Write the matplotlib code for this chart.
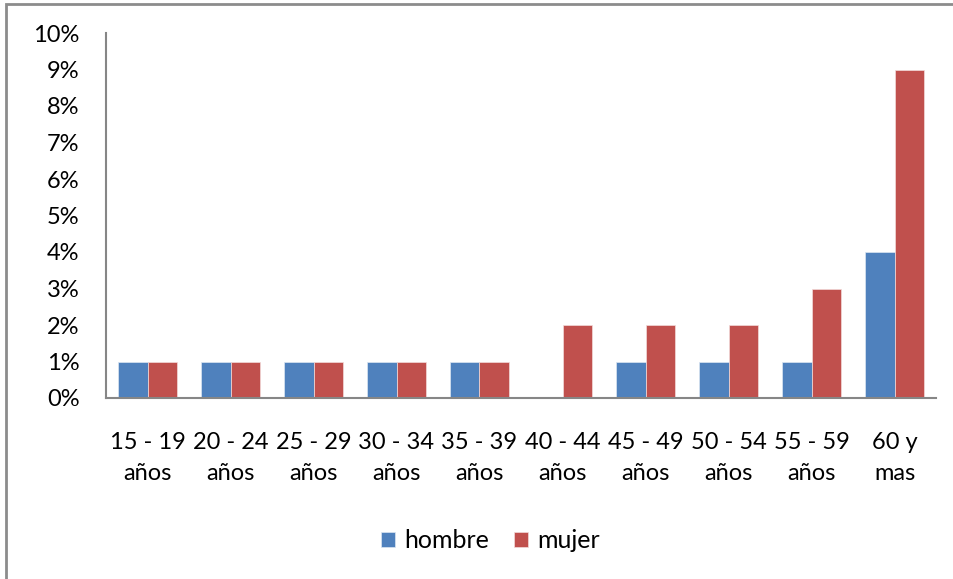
import matplotlib.pyplot as plt
import numpy as np
from matplotlib.patches import Rectangle
from matplotlib.ticker import PercentFormatter

plt.rcParams['font.family'] = ['Lato', 'DejaVu Sans']

# data (percent)
categories = ['15 - 19\naños', '20 - 24\naños', '25 - 29\naños', '30 - 34\naños',
              '35 - 39\naños', '40 - 44\naños', '45 - 49\naños', '50 - 54\naños',
              '55 - 59\naños', '60 y\nmas']
hombre = [1, 1, 1, 1, 1, 0, 1, 1, 1, 4]
mujer = [1, 1, 1, 1, 1, 2, 2, 2, 3, 9]

blue = '#4F81BD'
red = '#C0504D'
grey = '#868686'

fig = plt.figure(figsize=(9.54, 5.79), dpi=100)
ax = fig.add_axes([106/954, 1 - 398/579, 830/954, 365/579])

x = np.arange(len(categories))
w = 0.36
ax.bar(x - w/2, hombre, w, color=blue, edgecolor='#dce6f2', linewidth=0.5, label='hombre')
ax.bar(x + w/2, mujer, w, color=red, edgecolor='#f2dcdb', linewidth=0.5, label='mujer')

ax.set_xlim(-0.5, len(categories) - 0.5)
ax.set_ylim(0, 10)
ax.set_yticks(range(0, 11))
ax.yaxis.set_major_formatter(PercentFormatter(decimals=0))
ax.set_xticks(x)
ax.set_xticklabels(categories, linespacing=1.6)

for s in ['top', 'right']:
    ax.spines[s].set_visible(False)
for s in ['left', 'bottom']:
    ax.spines[s].set_color(grey)
    ax.spines[s].set_linewidth(1.5)
ax.tick_params(axis='both', length=0, labelsize=17, colors='black')
ax.tick_params(axis='y', pad=19)
ax.tick_params(axis='x', pad=24.5)

fig.legend(loc='center', bbox_to_anchor=(0.514, 1 - 541/579), ncol=2, frameon=False,
           fontsize=18, handlelength=0.58, handleheight=0.58, handletextpad=0.35,
           columnspacing=1.0)

# chart border
fig.add_artist(Rectangle((6/954, -0.05), 1.1, 1 - 3.5/579 + 0.05, transform=fig.transFigure,
                         fill=False, edgecolor='#8c8c8c', linewidth=2))

fig.savefig('out.png', dpi=100)
